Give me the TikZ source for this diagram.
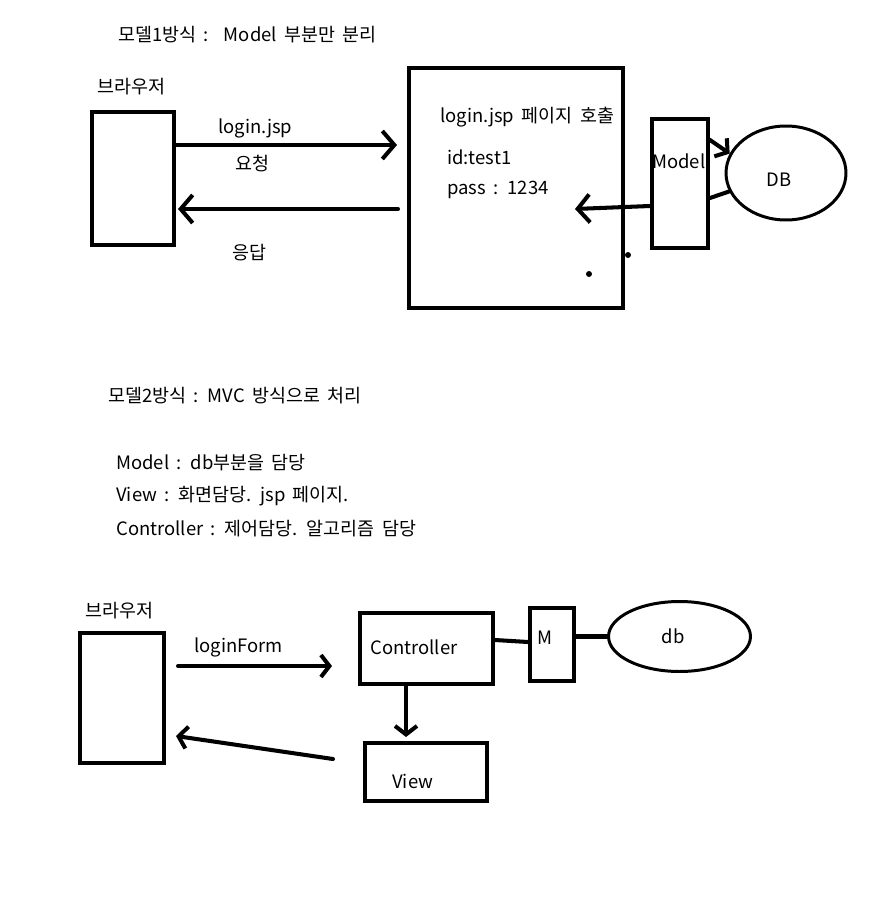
\documentclass[tikz,border=0pt]{standalone}
\usepackage{fontspec}
\setmainfont{Noto Sans CJK KR}[WordSpace=1.8]
\usetikzlibrary{arrows.meta,shapes.geometric}
\tikzset{
  box/.style={draw=black, line width=2.3pt, inner sep=0pt},
  oval/.style={ellipse, draw=black, line width=1.7pt, inner sep=0pt},
  txt/.style={font=\fontsize{10.5}{12}\selectfont, inner sep=0pt, anchor=west},
  hand/.style={line width=2.3pt, line cap=round, -{Straight Barb[length=2.4mm,width=5.6mm]}},
  handsmall/.style={line width=2.3pt, line cap=round, -{Straight Barb[length=1.7mm,width=4.4mm]}},
  plain/.style={line width=2.3pt, line cap=round},
}
\begin{document}
\begin{tikzpicture}[x=0.02cm, y=-0.02cm]
\useasboundingbox (0,0) rectangle (886,922);
% model 1
\node[txt] (title1) at (118,35) {모델1방식 :\ \ Model 부분만 분리};
\node[txt] (brlabel1) at (97,87) {브라우저};
\node[box, minimum width=1.64cm, minimum height=2.66cm] (browser1) at (133,178.5) {};
\node[box, minimum width=4.28cm, minimum height=4.8cm] (page) at (516,188) {};
\node[box, minimum width=1.12cm, minimum height=2.58cm] (model) at (680,183.5) {};
\node[oval, minimum width=2.4cm, minimum height=1.88cm] (db1) at (786,173) {};
\node[txt] (reqlabel) at (218,128) {login.jsp};
\node[txt] (reqko) at (235,164) {요청};
\node[txt] (resko) at (232,253) {응답};
\node[txt] (pagetitle) at (440,117) {login.jsp 페이지 호출};
\node[txt] (idtxt) at (447,157) {id:test1};
\node[txt] (passtxt) at (447,190) {pass : 1234};
\node[txt] (modeltxt) at (652,161) {Model};
\node[txt, anchor=center] (dbtxt) at (779,180) {DB};
\coordinate (reqend) at (397,145);
\coordinate (resstart) at (398,209);
\coordinate (backend) at (575,209);
\draw[hand] (browser1.east |- reqend) -- (reqend);
\draw[hand] (resstart) -- ([xshift=0.04cm]browser1.east |- resstart);
\draw[handsmall] (model.east |- 0,140) -- (db1.161);
\draw[plain] (db1.198) -- (model.east |- 0,198);
\draw[hand] (model.west |- 0,206) -- (backend);
\fill (628,255) circle (0.06cm);
\fill (589,274) circle (0.06cm);
% model 2
\node[txt] (title2) at (108,396) {모델2방식 : MVC 방식으로 처리};
\node[txt] (mline) at (116,463) {Model : db부분을 담당};
\node[txt] (vline) at (116,496) {View : 화면담당. jsp 페이지.};
\node[txt] (cline) at (116,529) {Controller : 제어담당. 알고리즘 담당};
\node[txt] (brlabel2) at (85,611) {브라우저};
\node[box, minimum width=1.68cm, minimum height=2.6cm] (browser2) at (122,698) {};
\node[box, minimum width=2.66cm, minimum height=1.42cm] (ctrl) at (426.5,648.5) {};
\node[box, minimum width=0.88cm, minimum height=1.46cm] (mbox) at (552,644.5) {};
\node[oval, minimum width=2.84cm, minimum height=1.4cm] (db2) at (679.5,636.5) {};
\node[box, minimum width=2.44cm, minimum height=1.16cm] (view) at (426,772) {};
\node[txt] (formlabel) at (194,647) {loginForm};
\node[txt] (ctrltxt) at (370,647) {Controller};
\node[txt] (mtxt) at (537,638) {M};
\node[txt, anchor=center] (db2txt) at (673,636) {db};
\node[txt] (viewtxt) at (392,781) {View};
\coordinate (formstart) at (178,666);
\coordinate (formend) at (332,666);
\coordinate (viewin) at (406,737);
\coordinate (viewout) at (333,759);
\coordinate (backtip) at (176,736);
\draw[handsmall] (formstart) -- (formend);
\draw[plain] (ctrl.east |- 0,640) -- (mbox.west |- 0,642);
\draw[plain] (mbox.east |- db2.west) -- (db2.west);
\draw[handsmall] (ctrl.south -| viewin) -- (viewin);
\draw[handsmall] (viewout) -- (backtip);
\end{tikzpicture}
\end{document}
